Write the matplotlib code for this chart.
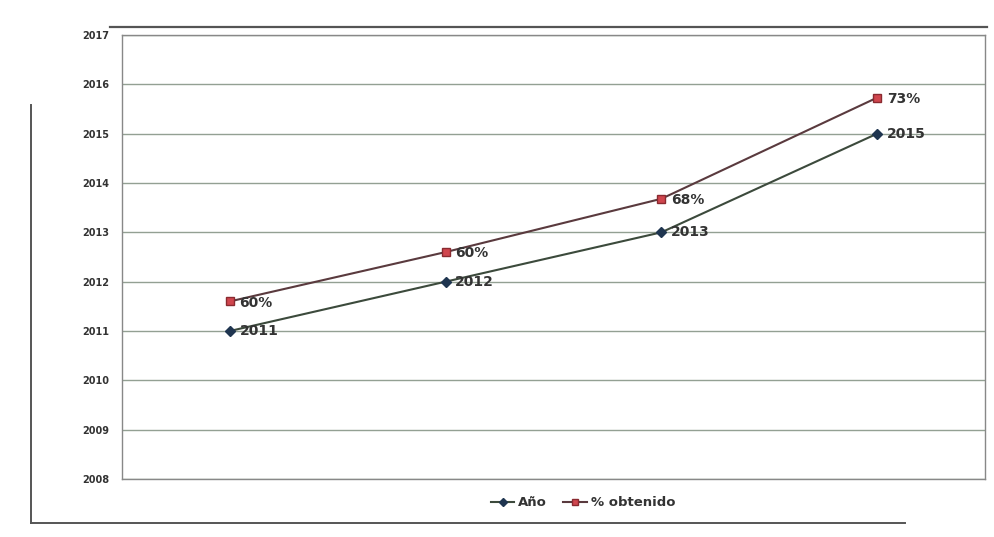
import matplotlib.pyplot as plt
from matplotlib.lines import Line2D

# data (stacked line chart: % series sits on top of the year series)
anio = [2011, 2012, 2013, 2015]
obtenido = [0.60, 0.60, 0.68, 0.73]
pct_labels = ["60%", "60%", "68%", "73%"]
yticks = list(range(2008, 2018))

x = list(range(len(anio)))
stacked = [a + p for a, p in zip(anio, obtenido)]

fig = plt.figure(figsize=(9.95, 5.37), dpi=100)
fig.patch.set_facecolor("white")

# scanned outer frame pieces
fig.add_artist(Line2D([110/995, 987/995], [1-27/537, 1-27/537], color="#555555", lw=1.6))
fig.add_artist(Line2D([31/995, 31/995], [1-105/537, 1-523/537], color="#555555", lw=1.4))
fig.add_artist(Line2D([31/995, 905/995], [1-523/537, 1-523/537], color="#555555", lw=1.4))

ax = fig.add_axes([122/995, 1-479/537, 863/995, 444/537])
ax.set_xlim(-0.5, len(anio) - 0.5)
ax.set_ylim(2008, 2017)
ax.set_yticks(yticks)
ax.set_yticklabels([str(t) for t in yticks], fontsize=7, fontweight="bold", color="#333333")
ax.set_xticks([])
ax.tick_params(axis="y", length=0, pad=9)
ax.grid(axis="y", color="#93a093", lw=1.0)
ax.set_axisbelow(True)
for s in ax.spines.values():
    s.set_color("#888888")
    s.set_linewidth(1.0)

ax.plot(x, anio, color="#3c4a3c", lw=1.5, marker="D", markersize=5,
        markerfacecolor="#1f3550", markeredgecolor="#1f3550", label="Año")
ax.plot(x, stacked, color="#5a3a3e", lw=1.5, marker="s", markersize=6,
        markerfacecolor="#d0464e", markeredgecolor="#8a2a30", label="% obtenido")

for xi, a in zip(x, anio):
    ax.annotate(str(a), (xi, a), xytext=(7, 0), textcoords="offset points",
                va="center", ha="left", fontsize=10, fontweight="bold", color="#333333")
for xi, s, lab in zip(x, stacked, pct_labels):
    ax.annotate(lab, (xi, s), xytext=(7, -1), textcoords="offset points",
                va="center", ha="left", fontsize=10, fontweight="bold", color="#333333")

leg = fig.legend(handles=ax.get_lines(), loc="center", bbox_to_anchor=(583/995, 1-503/537),
                 ncol=2, frameon=False, handlelength=1.8, columnspacing=1.2,
                 handletextpad=0.3, markerscale=0.8, prop={"weight": "bold", "size": 9.5})
for t in leg.get_texts():
    t.set_color("#333333")

fig.savefig("out.png", dpi=100)
